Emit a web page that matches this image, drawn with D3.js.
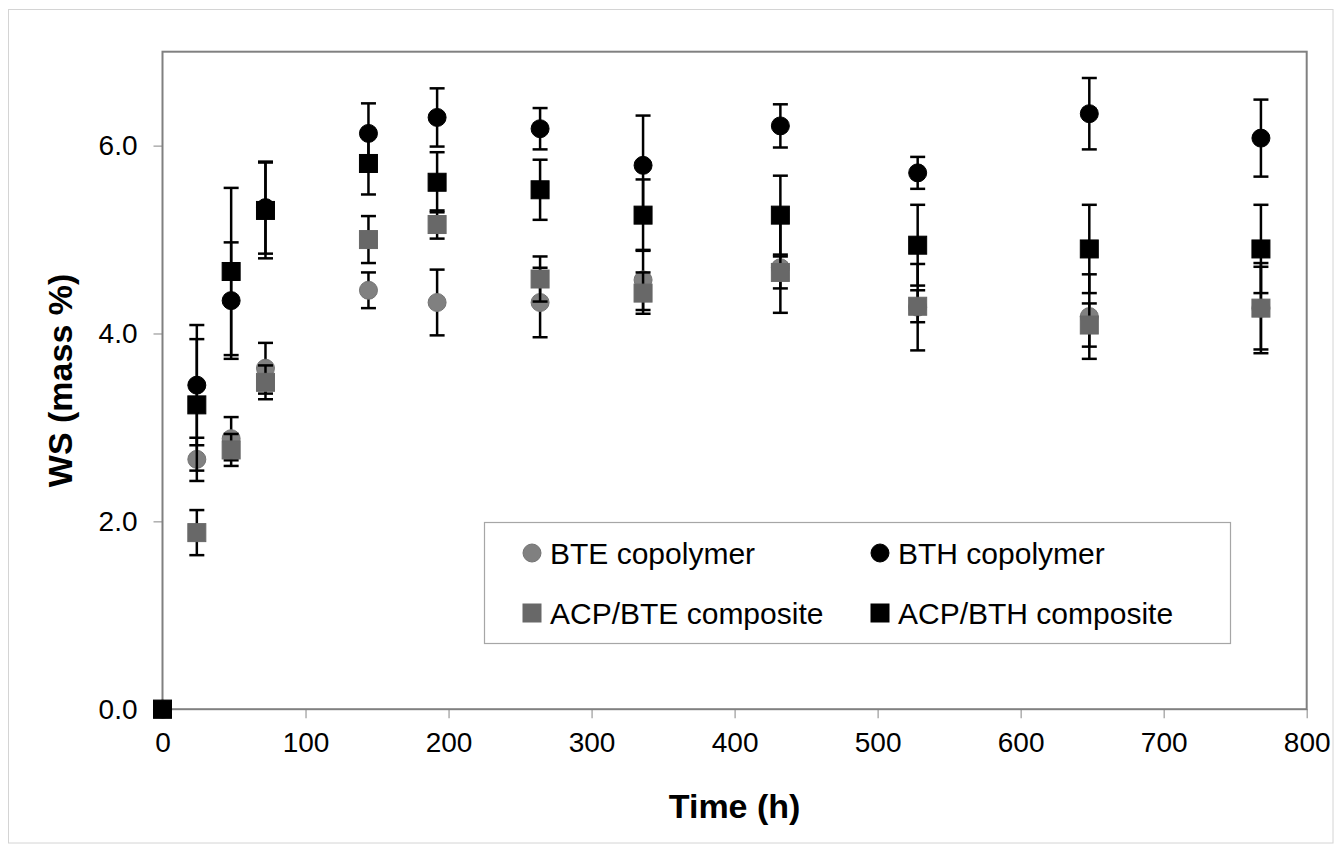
<!DOCTYPE html>
<html>
<head>
<meta charset="utf-8">
<script src="https://cdn.jsdelivr.net/npm/d3@7/dist/d3.min.js"></script>
<style>
  html, body { margin: 0; padding: 0; background: #fff; }
  svg { display: block; font-family: "Liberation Sans", Arial, sans-serif; }
</style>
</head>
<body>
<svg id="chart" width="1341" height="852"></svg>
<script>
// ---- data ----
const time = [0, 24, 48, 72, 144, 192, 264, 336, 432, 528, 648, 768];

const bteCopolymer    = [0, 2.66, 2.88, 3.63, 4.46, 4.33, 4.33, 4.57, 4.70, 4.28, 4.18, 4.27];
const bteCopolymerErr = [0, 0.23, 0.23, 0.27, 0.19, 0.35, 0.37, 0.32, 0.48, 0.46, 0.45, 0.48];

const bthCopolymer    = [0, 3.45, 4.35, 5.34, 6.13, 6.30, 6.18, 5.79, 6.21, 5.71, 6.34, 6.08];
const bthCopolymerErr = [0, 0.64, 0.62, 0.49, 0.32, 0.31, 0.22, 0.53, 0.23, 0.17, 0.38, 0.41];

const acpBteComposite    = [0, 1.88, 2.76, 3.48, 5.00, 5.16, 4.58, 4.43, 4.65, 4.29, 4.09, 4.27];
const acpBteCompositeErr = [0, 0.24, 0.17, 0.18, 0.25, 0.15, 0.24, 0.22, 0.17, 0.17, 0.23, 0.44];

const acpBthComposite    = [0, 3.24, 4.66, 5.31, 5.81, 5.61, 5.53, 5.26, 5.26, 4.94, 4.90, 4.90];
const acpBthCompositeErr = [0, 0.70, 0.89, 0.51, 0.33, 0.32, 0.32, 0.38, 0.42, 0.43, 0.47, 0.47];

const seriesNames = ["BTE copolymer", "BTH copolymer", "ACP/BTE composite", "ACP/BTH composite"];
const xTicks = [0, 100, 200, 300, 400, 500, 600, 700, 800];
const yTicks = [0, 2, 4, 6];
const xTitle = "Time (h)";
const yTitle = "WS (mass %)";

// ---- layout ----
const svg = d3.select("#chart");
const plot = { left: 162.5, top: 51.7, right: 1306.7, bottom: 709.2 };

const x = d3.scaleLinear().domain([0, 800]).range([plot.left, plot.right]);
const y = d3.scaleLinear().domain([0, 7]).range([plot.bottom, plot.top]);

const series = [
  { name: seriesNames[0], values: bteCopolymer,    err: bteCopolymerErr,    shape: "circle", fill: "#808080", stroke: "#737373" },
  { name: seriesNames[1], values: bthCopolymer,    err: bthCopolymerErr,    shape: "circle", fill: "#000000", stroke: "#000000" },
  { name: seriesNames[2], values: acpBteComposite, err: acpBteCompositeErr, shape: "square", fill: "#686868", stroke: "#686868" },
  { name: seriesNames[3], values: acpBthComposite, err: acpBthCompositeErr, shape: "square", fill: "#000000", stroke: "#000000" }
];

// outer chart border
svg.append("rect")
  .attr("x", 8.5).attr("y", 9.5)
  .attr("width", 1333 - 8.5).attr("height", 843 - 9.5)
  .attr("fill", "none").attr("stroke", "#d4d4d4").attr("stroke-width", 1);

// axes
const xAxis = d3.axisBottom(x).tickValues(xTicks).tickFormat(d3.format("d")).tickSize(9).tickPadding(14);
const yAxis = d3.axisLeft(y).tickValues(yTicks).tickFormat(d3.format(".1f")).tickSize(9).tickPadding(16);

const gx = svg.append("g").attr("transform", `translate(0,${plot.bottom})`).call(xAxis);
const gy = svg.append("g").attr("transform", `translate(${plot.left},0)`).call(yAxis);
[gx, gy].forEach(g => {
  g.select(".domain").remove();
  g.selectAll(".tick line").attr("stroke", "#9a9a9a").attr("stroke-width", 1.2);
  g.selectAll(".tick text").attr("fill", "#000").style("font-size", "28px")
    .style("font-family", "'Liberation Sans', Arial, sans-serif");
});

// plot frame
svg.append("rect")
  .attr("x", plot.left).attr("y", plot.top)
  .attr("width", plot.right - plot.left).attr("height", plot.bottom - plot.top)
  .attr("fill", "none").attr("stroke", "#808080").attr("stroke-width", 2);

// axis titles
svg.append("text")
  .attr("x", (plot.left + plot.right) / 2).attr("y", 818)
  .attr("text-anchor", "middle")
  .style("font-size", "34px").style("font-weight", "bold")
  .text(xTitle);

svg.append("text")
  .attr("transform", `translate(72,${(plot.top + plot.bottom) / 2}) rotate(-90)`)
  .attr("text-anchor", "middle")
  .style("font-size", "34px").style("font-weight", "bold")
  .text(yTitle);

// markers
const markerSize = 18;
const capHalf = 7.5;
function drawMarker(g, shape, cx, cy, fill, stroke) {
  if (shape === "circle") {
    g.append("circle").attr("cx", cx).attr("cy", cy).attr("r", markerSize / 2)
      .attr("fill", fill).attr("stroke", stroke).attr("stroke-width", 1);
  } else {
    g.append("rect").attr("x", cx - markerSize / 2).attr("y", cy - markerSize / 2)
      .attr("width", markerSize).attr("height", markerSize)
      .attr("fill", fill).attr("stroke", stroke).attr("stroke-width", 1);
  }
}

series.forEach(s => {
  const g = svg.append("g");
  const pts = time.map((t, i) => ({ t, v: s.values[i], e: s.err[i] }));
  // error bars
  pts.filter(p => p.e > 0).forEach(p => {
    const cx = x(p.t);
    g.append("line").attr("x1", cx).attr("x2", cx)
      .attr("y1", y(p.v + p.e)).attr("y2", y(p.v - p.e))
      .attr("stroke", "#000").attr("stroke-width", 2.5);
    [p.v + p.e, p.v - p.e].forEach(v => {
      g.append("line").attr("x1", cx - capHalf).attr("x2", cx + capHalf)
        .attr("y1", y(v)).attr("y2", y(v))
        .attr("stroke", "#000").attr("stroke-width", 2.5);
    });
  });
  pts.forEach(p => drawMarker(g, s.shape, x(p.t), y(p.v), s.fill, s.stroke));
});

// legend
const legend = svg.append("g");
legend.append("rect")
  .attr("x", 484.5).attr("y", 522.5).attr("width", 746).attr("height", 121)
  .attr("fill", "#fff").attr("stroke", "#a6a6a6").attr("stroke-width", 1.2);
const legendPos = [
  { mx: 532, my: 553 }, { mx: 880, my: 553 },
  { mx: 532, my: 613 }, { mx: 880, my: 613 }
];
series.forEach((s, i) => {
  const p = legendPos[i];
  drawMarker(legend, s.shape, p.mx, p.my, s.fill, s.stroke);
  legend.append("text")
    .attr("x", p.mx + 18).attr("y", p.my + 11)
    .style("font-size", "30px")
    .text(s.name);
});
</script>
</body>
</html>
